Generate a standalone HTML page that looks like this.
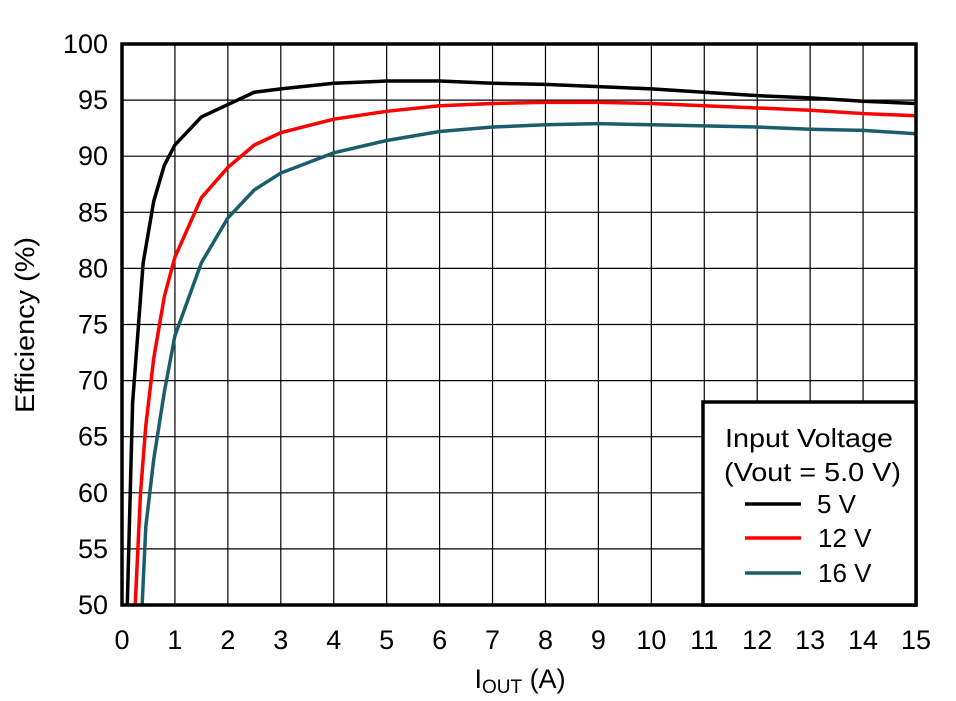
<!DOCTYPE html><html><head><style>body{margin:0;background:#fff}svg{display:block}text{font-family:"Liberation Sans",sans-serif;fill:#000}</style></head><body>
<svg id="s" width="956" height="701" viewBox="0 0 956 701"></svg>
<script>
const s=document.getElementById('s');let h='';
const X=v=>122+v*(794/15),Y=v=>44+(100-v)*11.22;
for(let i=1;i<15;i++)h+=`<line x1="${X(i)}" y1="44" x2="${X(i)}" y2="605" stroke="#000" stroke-width="1.2"/>`;
for(let v=55;v<100;v+=5)h+=`<line x1="122" y1="${Y(v)}" x2="916" y2="${Y(v)}" stroke="#000" stroke-width="1.2"/>`;
for(let i=0;i<=15;i++)h+=`<text x="${X(i)}" y="649" font-size="27" text-anchor="middle">${i}</text>`;
for(let v=50;v<=100;v+=5)h+=`<text x="108" y="${Y(v)+9}" font-size="27" text-anchor="end">${v}</text>`;
const d={'#000':[[0.1,50],[0.2,68],[0.4,80.5],[0.6,86],[0.8,89.2],[1,91],[1.5,93.5],[2,94.6],[2.5,95.7],[3,96],[4,96.5],[5,96.7],[6,96.7],[7,96.5],[8,96.4],[9,96.2],[10,96],[11,95.7],[12,95.4],[13,95.2],[14,94.9],[15,94.7]],
'#ff0000':[[0.25,50],[0.35,60],[0.45,66],[0.6,72],[0.8,77.5],[1,81],[1.5,86.3],[2,89],[2.5,91],[3,92.1],[4,93.3],[5,94],[6,94.5],[7,94.7],[8,94.8],[9,94.8],[10,94.7],[11,94.5],[12,94.3],[13,94.1],[14,93.8],[15,93.6]],
'#1b5e6b':[[0.38,50],[0.45,57],[0.6,63],[0.8,69],[1,74],[1.5,80.5],[2,84.5],[2.5,87],[3,88.5],[4,90.3],[5,91.4],[6,92.2],[7,92.6],[8,92.8],[9,92.9],[10,92.8],[11,92.7],[12,92.6],[13,92.4],[14,92.3],[15,92]]};
for(const c in d)h+=`<polyline fill="none" stroke="${c}" stroke-width="3.5" points="${d[c].map(p=>X(p[0])+','+Y(p[1])).join(' ')}"/>`;
h+=`<rect x="122" y="44" width="794" height="561" fill="none" stroke="#000" stroke-width="3.5"/>`;
h+=`<rect x="703" y="402" width="213" height="203" fill="#fff" stroke="#000" stroke-width="3.5"/>`;
h+=`<text x="725" y="447" font-size="26" textLength="168" lengthAdjust="spacingAndGlyphs">Input Voltage</text><text x="724" y="481" font-size="26" textLength="177" lengthAdjust="spacingAndGlyphs">(Vout = 5.0 V)</text>`;
[['#000','5 V',513,817],['#ff0000','12 V',547,818],['#1b5e6b','16 V',582,818]].forEach(([c,t,y,x])=>{h+=`<line x1="745" y1="${y-9}" x2="801" y2="${y-9}" stroke="${c}" stroke-width="3.5"/><text x="${x}" y="${y}" font-size="26">${t}</text>`});
h+=`<text x="520" y="688" font-size="27" text-anchor="middle">I<tspan font-size="19" dy="5">OUT</tspan><tspan dy="-5"> (A)</tspan></text>`;
h+=`<text transform="translate(34,325) rotate(-90)" font-size="27" text-anchor="middle" textLength="176" lengthAdjust="spacingAndGlyphs">Efficiency (%)</text>`;
s.innerHTML=h;
</script></body></html>
